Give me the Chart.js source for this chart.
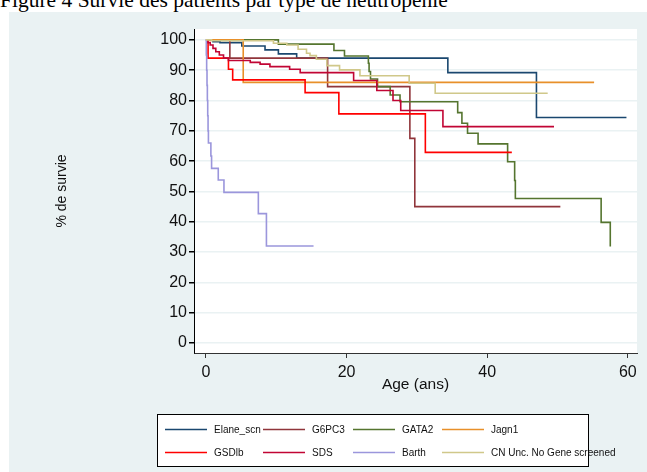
<!DOCTYPE html>
<html>
<head>
<meta charset="utf-8">
<script src="https://cdn.jsdelivr.net/npm/chart.js@4.4.1/dist/chart.umd.min.js"></script>
<style>
  html, body { margin: 0; padding: 0; background: #fff; }
  body { width: 647px; height: 472px; position: relative; overflow: hidden; }
  #titre { position: absolute; left: 0; top: -10px; font-family: "Liberation Serif", "Times New Roman", serif; font-size: 21.5px; line-height: 21.5px; white-space: nowrap; color: #000; }
  #panneau { position: absolute; left: 9px; top: 12px; width: 638px; height: 460px; }
</style>
</head>
<body>
<div id="titre">Figure 4 Survie des patients par type de neutropénie</div>
<div id="panneau"><canvas id="kmChart" width="638" height="460"></canvas></div>
<script>
// courbes de Kaplan-Meier (age en années, survie en %)
const elaneAge  = [0, 1.0, 2.0, 5.1, 8.4, 10.3, 12.9, 34.4, 47.0, 59.8];
const elaneSurv = [100, 99.4, 99.1, 98, 96.7, 95.4, 94, 89.2, 74.4, 74.4];

const g6pc3Age  = [0, 3.4, 17.3, 29.0, 29.7, 50.4];
const g6pc3Surv = [100, 94, 84.6, 67.5, 45, 45];

const gata2Age  = [0, 10.3, 18.2, 19.7, 23.1, 23.2, 23.4, 24.4, 26.2, 27.6, 35.8, 36.4, 37.2, 38.7, 42.9, 43.9, 44.0, 56.2, 57.5];
const gata2Surv = [100, 98.6, 96.5, 94.7, 92.3, 89.6, 87.1, 84.6, 81.8, 79.6, 76, 72.5, 69.2, 65.7, 59.8, 53.6, 47.7, 39.8, 31.8];

const jagn1Age  = [0, 5.3, 55.2];
const jagn1Surv = [100, 86, 86];

const gsdAge  = [0, 0.3, 3.2, 3.8, 14.1, 18.9, 31.2, 43.5];
const gsdSurv = [100, 94, 90.3, 86.8, 82.6, 75.6, 62.9, 62.9];

const sdsAge  = [0, 0.2, 0.6, 1.0, 1.4, 1.9, 2.5, 3.2, 6.3, 7.7, 9.1, 11.9, 13.4, 21.0, 24.3, 26.6, 27.7, 33.7, 49.5];
const sdsSurv = [100, 99.1, 98.3, 97.2, 96.1, 95, 94, 93.2, 92.6, 92, 91.2, 90.3, 89.2, 86.6, 83.3, 80.0, 76.7, 71.4, 71.4];

const barthAge  = [0, 0.05, 0.1, 0.15, 0.2, 0.25, 0.3, 0.35, 0.7, 0.8, 1.75, 2.56, 7.45, 8.6, 15.3];
const barthSurv = [100, 95, 90, 85, 80, 75, 70, 66, 61.7, 57.6, 53.8, 49.7, 42.7, 32, 32];

const cnAge  = [0, 0.8, 9.6, 11.5, 13.1, 14.3, 14.8, 15.7, 17.2, 19.0, 21.9, 28.9, 32.6, 48.6];
const cnSurv = [100, 99.7, 98.9, 98.3, 96.9, 95.6, 94.8, 93.6, 91.5, 90.1, 88.2, 85.7, 82.4, 82.4];

const ageTicks = [0, 20, 40, 60];
const survTicks = [0, 10, 20, 30, 40, 50, 60, 70, 80, 90, 100];

const FONT = 'Arial, "Liberation Sans", sans-serif';

function pts(ages, surv) {
    return ages.map((a, i) => ({ x: a, y: surv[i] }));
}

const series = [
    ['Elane_scn', elaneAge, elaneSurv, '#1a476f'],
    ['G6PC3', g6pc3Age, g6pc3Surv, '#90353b'],
    ['GATA2', gata2Age, gata2Surv, '#55752f'],
    ['Jagn1', jagn1Age, jagn1Surv, '#e8902a'],
    ['GSDlb', gsdAge, gsdSurv, '#ff0000'],
    ['SDS', sdsAge, sdsSurv, '#c10534'],
    ['Barth', barthAge, barthSurv, '#9b96dc'],
    ['CN Unc. No Gene screened', cnAge, cnSurv, '#d0c88a']
];

// fond gris-bleu façon Stata + zone du graphe en blanc
const fondStata = {
    id: 'fondStata',
    beforeDraw(chart) {
        const { ctx, chartArea: a } = chart;
        ctx.save();
        ctx.fillStyle = '#eaf2f3';
        ctx.fillRect(0, 0, chart.width, chart.height);
        ctx.fillStyle = '#fff';
        ctx.fillRect(a.left, a.top, a.right - a.left, a.bottom - a.top);
        ctx.restore();
    }
};

// légende encadrée sur 4 colonnes
const legendeStata = {
    id: 'legendeStata',
    afterDraw(chart) {
        const ctx = chart.ctx;
        const colX = [156, 254, 344, 433];
        const rowY = [417.5, 440.5];
        ctx.save();
        ctx.fillStyle = '#fff';
        ctx.fillRect(148.5, 402.5, 431, 52);
        ctx.strokeStyle = '#000';
        ctx.lineWidth = 1;
        ctx.strokeRect(148.5, 402.5, 431, 52);
        ctx.font = '10px ' + FONT;
        ctx.textBaseline = 'middle';
        chart.data.datasets.forEach((ds, i) => {
            const x = colX[i % 4];
            const y = rowY[Math.floor(i / 4)];
            ctx.strokeStyle = ds.borderColor;
            ctx.lineWidth = 1.6;
            ctx.beginPath();
            ctx.moveTo(x, y);
            ctx.lineTo(x + 42, y);
            ctx.stroke();
            ctx.fillStyle = '#111';
            ctx.fillText(ds.label, x + 49, y + 1);
        });
        ctx.restore();
    }
};

const ctx = document.getElementById('kmChart').getContext('2d');
new Chart(ctx, {
    type: 'line',
    data: {
        datasets: series.map((s, i) => ({
            label: s[0],
            data: pts(s[1], s[2]),
            borderColor: s[3],
            borderWidth: 1.6,
            pointRadius: 0,
            stepped: true,
            fill: false,
            order: -i
        }))
    },
    options: {
        responsive: false,
        animation: false,
        devicePixelRatio: 1,
        layout: { padding: { left: 0, top: 17, right: 10, bottom: 78 } },
        plugins: {
            legend: { display: false },
            tooltip: { enabled: false }
        },
        scales: {
            x: {
                type: 'linear',
                min: -1.7,
                max: 61.3,
                afterBuildTicks: s => { s.ticks = ageTicks.map(v => ({ value: v })); },
                afterFit: s => { s.height = 41; },
                grid: { drawOnChartArea: false, tickLength: 5, tickColor: '#333' },
                border: { color: '#333', width: 1 },
                ticks: { font: { family: FONT, size: 16 }, color: '#111', padding: 5, maxRotation: 0 },
                title: { display: true, text: 'Age (ans)', font: { family: FONT, size: 15.5 }, color: '#111', padding: 0 }
            },
            y: {
                type: 'linear',
                min: -3.3,
                max: 103.6,
                afterBuildTicks: s => { s.ticks = survTicks.map(v => ({ value: v })); },
                afterFit: s => { s.width = 185; },
                grid: { color: '#eaf2f3', lineWidth: 1.5, tickColor: '#000', tickLength: 5 },
                border: { color: '#000', width: 1 },
                ticks: { font: { family: FONT, size: 16 }, color: '#111', padding: 2 },
                title: { display: true, text: '% de survie', font: { family: FONT, size: 14 }, color: '#111', padding: { top: 45, bottom: 0 } }
            }
        }
    },
    plugins: [fondStata, legendeStata]
});
</script>
</body>
</html>
